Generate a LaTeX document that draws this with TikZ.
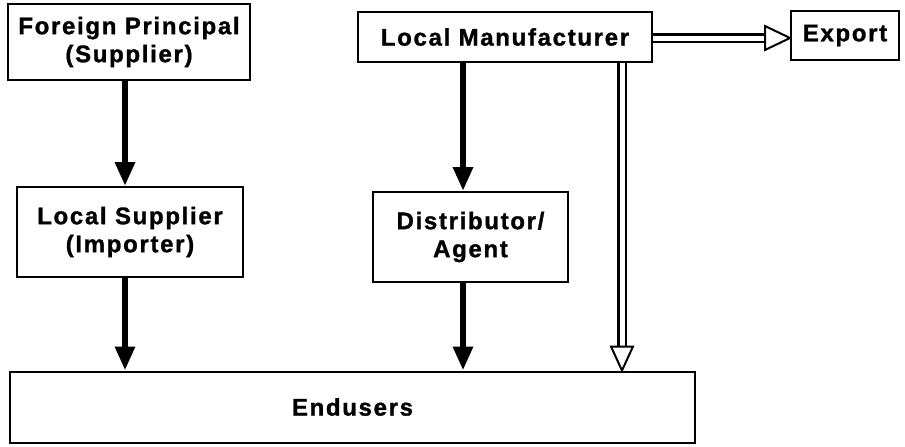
\documentclass[tikz,border=0pt]{standalone}
\usepackage{fontspec}
\setmainfont[LetterSpace=7, BoldFeatures={FakeBold=1.2}]{Liberation Sans}
\usetikzlibrary{arrows.meta,calc}

\begin{document}
\begin{tikzpicture}[x=1pt,y=-1pt,
  box/.style={draw, line width=2pt, inner sep=0pt, align=center,
    font=\bfseries\fontsize{24}{28}\selectfont},
  solidarrow/.style={line width=6.5pt,
    -{Triangle[length=24pt,width=19pt]}},
  hollowshaft/.style={line width=2.4pt, double distance=5pt},
  hollowhead/.style={line width=2pt, fill=white, line join=miter}]
\useasboundingbox (0,0) rectangle (905,447);

% boxes
\node[box, minimum width=242pt, minimum height=76pt] (fp) at (129,42)
  {Foreign Principal\\(Supplier)};
\node[box, minimum width=294pt, minimum height=50pt] (lm) at (505,37)
  {Local Manufacturer};
\node[box, minimum width=108pt, minimum height=49pt] (ex) at (845,35.5)
  {Export};
\node[box, minimum width=226pt, minimum height=90pt] (ls) at (130,232)
  {Local Supplier\\(Importer)};
\node[box, minimum width=195pt, minimum height=90pt] (da) at (470.5,237)
  {Distributor/\\Agent};
\node[box, minimum width=685pt, minimum height=71pt] (eu) at (352.5,407)
  {Endusers};

% arrow columns
\coordinate (c1) at (125,0);
\coordinate (c2) at (463,0);
\coordinate (c3) at (622,0);
\coordinate (r1) at (0,38);

% solid arrows
\draw[solidarrow] (fp.south -| c1) -- (ls.north -| c1);
\draw[solidarrow] (ls.south -| c1) -- (eu.north -| c1);
\draw[solidarrow] (lm.south -| c2) -- (da.north -| c2);
\draw[solidarrow] (da.south -| c2) -- (eu.north -| c2);

% hollow double arrow to export
\coordinate (ht) at (ex.west |- r1);
\draw[hollowshaft] (lm.east |- r1) -- ($(ht)+(-24,0)$);
\draw[hollowhead] ($(ht)+(-25,-12)$) -- (ht) -- ($(ht)+(-25,12)$) -- cycle;

% hollow double arrow to endusers
\coordinate (vt) at (eu.north -| c3);
\draw[hollowshaft] (lm.south -| c3) -- ($(vt)+(0,-23)$);
\draw[hollowhead] ($(vt)+(-11,-24)$) -- (vt) -- ($(vt)+(11,-24)$) -- cycle;
\end{tikzpicture}
\end{document}
